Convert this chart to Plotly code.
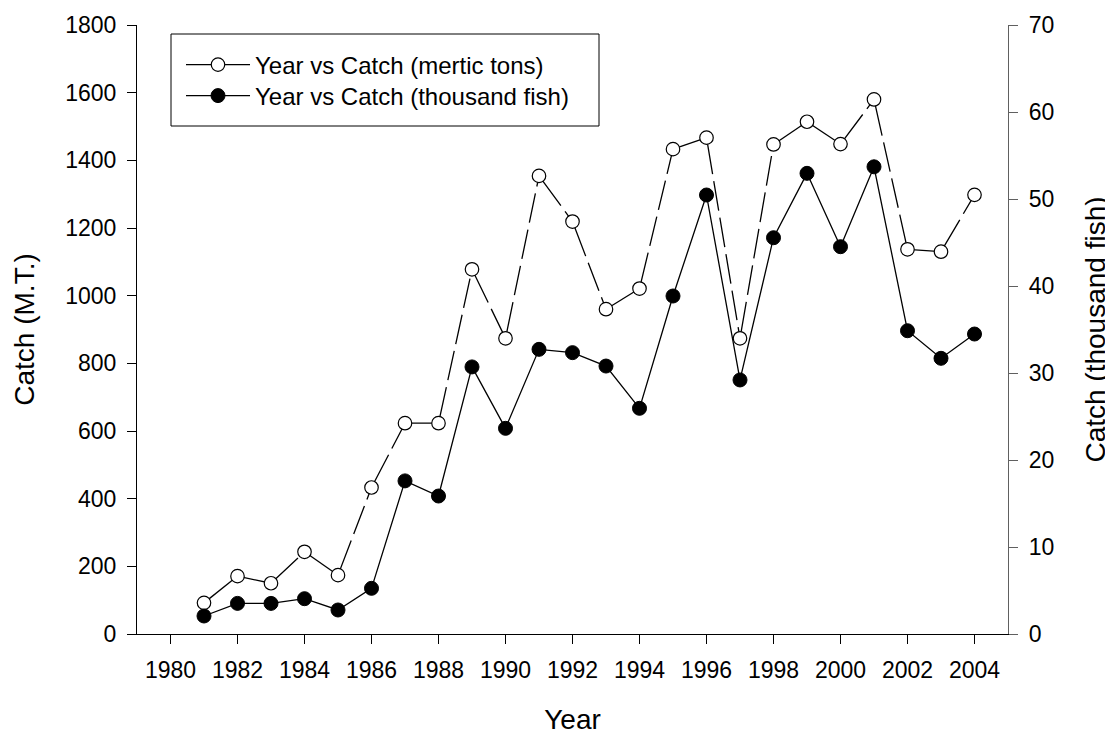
import plotly.graph_objects as go

years = [1981, 1982, 1983, 1984, 1985, 1986, 1987, 1988, 1989, 1990, 1991, 1992,
         1993, 1994, 1995, 1996, 1997, 1998, 1999, 2000, 2001, 2002, 2003, 2004]
catch_mt = [92, 171, 150, 243, 174, 433, 623, 623, 1078, 874, 1354, 1219,
            960, 1021, 1433, 1467, 874, 1447, 1514, 1448, 1580, 1137, 1130, 1298]
catch_fish = [2.07, 3.52, 3.52, 4.06, 2.76, 5.25, 17.6, 15.86, 30.7, 23.64, 32.72, 32.34,
              30.8, 25.94, 38.85, 50.46, 29.2, 45.55, 52.95, 44.52, 53.7, 34.86, 31.69, 34.48]

name_mt = "Year vs Catch (mertic tons)"
name_fish = "Year vs Catch (thousand fish)"

FONT = "Liberation Sans, Arial, sans-serif"
# page offset of the figure div (default body margin)
OFF = 8
W, H = 1113 - OFF, 735 - OFF
# plot area in page pixels
PL, PR, PT, PB = 137, 1008, 25, 634
PW, PH = PR - PL, PB - PT
L, T = PL - OFF, PT - OFF
R, B = W - (PR - OFF), H - (PB - OFF)


def px_x(px):
    return (px - PL) / PW


def px_y(py):
    return (PB - py) / PH


fig = go.Figure()

# dashed segments of the metric-ton series (pattern restarts every segment)
dash_pattern = "37px,7px,30px,7px,30px,7px,30px,7px,30px,7px,30px,7px,30px,7px"
for i in range(len(years) - 1):
    fig.add_trace(go.Scatter(
        x=years[i:i + 2], y=catch_mt[i:i + 2], mode="lines",
        line=dict(color="black", width=1.3, dash=dash_pattern),
        showlegend=False, hoverinfo="skip", yaxis="y"))

# open markers
fig.add_trace(go.Scatter(
    x=years, y=catch_mt, mode="markers", name=name_mt, showlegend=False,
    marker=dict(symbol="circle", size=13.5, color="white",
                line=dict(color="black", width=1.2)),
    yaxis="y"))

# legend proxy for the open series
fig.add_trace(go.Scatter(
    x=[None], y=[None], mode="lines+markers", name=name_mt, legend="legend",
    line=dict(color="black", width=1.3),
    marker=dict(symbol="circle", size=13.5, color="white",
                line=dict(color="black", width=1.2)),
    yaxis="y"))

# filled series on the right axis
fig.add_trace(go.Scatter(
    x=years, y=catch_fish, mode="lines+markers", name=name_fish, legend="legend2",
    line=dict(color="black", width=1.3),
    marker=dict(symbol="circle", size=14, color="black",
                line=dict(color="black", width=1)),
    yaxis="y2"))

tickfont = dict(family=FONT, size=23, color="black")
titlefont = dict(family=FONT, size=28, color="black")
legfont = dict(family=FONT, size=24, color="black")

leg_common = dict(xanchor="left", yanchor="middle", bgcolor="rgba(0,0,0,0)",
                  borderwidth=0, font=legfont, itemwidth=64)

fig.update_layout(
    width=W, height=H,
    margin=dict(l=L, r=R, t=T, b=B, autoexpand=False),
    paper_bgcolor="white", plot_bgcolor="white",
    font=dict(family=FONT, color="black"),
    xaxis=dict(
        range=[1979, 2005], tick0=1980, dtick=2, tickmode="linear",
        showgrid=False, zeroline=False,
        showline=True, linecolor="black", linewidth=1,
        ticks="outside", ticklen=9, tickwidth=1, tickcolor="black",
        tickfont=tickfont, ticklabelstandoff=6,
        title=dict(text="Year", font=titlefont, standoff=36),
    ),
    yaxis=dict(
        range=[0, 1800], dtick=200, tickmode="linear",
        showgrid=False, zeroline=False,
        showline=True, linecolor="black", linewidth=1,
        ticks="outside", ticklen=9, tickwidth=1, tickcolor="black",
        tickfont=tickfont, ticklabelstandoff=6,
        title=dict(text="Catch (M.T.)", font=titlefont, standoff=22),
    ),
    yaxis2=dict(
        range=[0, 70], dtick=10, tickmode="linear",
        overlaying="y", side="right", anchor="x",
        showgrid=False, zeroline=False,
        showline=True, linecolor="#606060", linewidth=1.2,
        ticks="outside", ticklen=9, tickwidth=1, tickcolor="#606060",
        tickfont=tickfont, ticklabelstandoff=6,
        title=dict(text="Catch (thousand fish)", font=titlefont, standoff=32),
    ),
    legend=dict(x=px_x(181), y=px_y(65), **leg_common),
    legend2=dict(x=px_x(181), y=px_y(96), **leg_common),
    shapes=[dict(
        type="rect", xref="paper", yref="paper",
        x0=px_x(171), x1=px_x(599), y0=px_y(126), y1=px_y(34),
        line=dict(color="black", width=1), fillcolor="rgba(0,0,0,0)",
        layer="above",
    )],
)

fig.write_html("out.html")
